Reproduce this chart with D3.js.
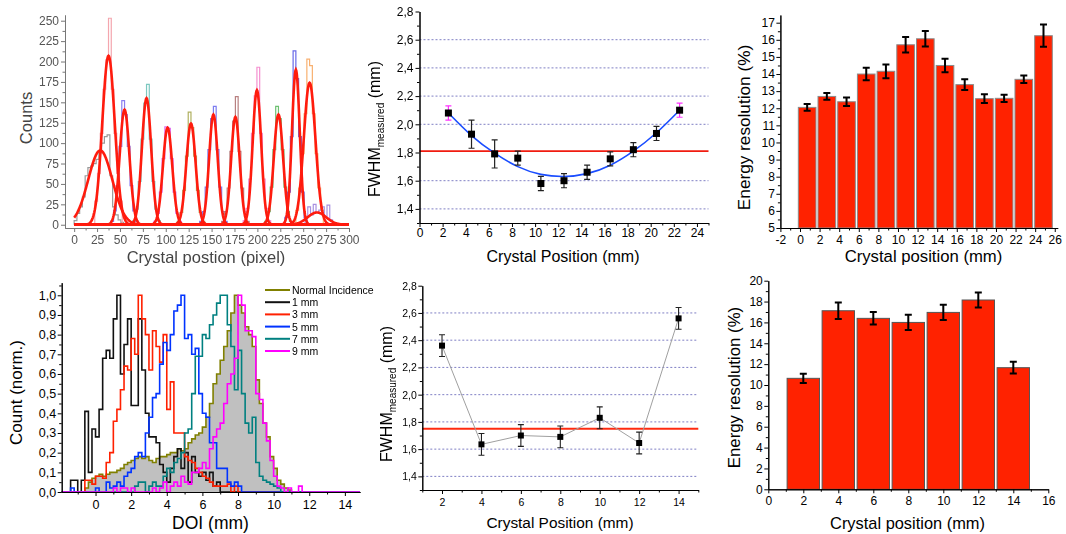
<!DOCTYPE html>
<html>
<head>
<meta charset="utf-8">
<script src="https://cdn.jsdelivr.net/npm/d3@7"></script>
<style>
body { margin: 0; background: #fff; }
svg { display: block; }
</style>
</head>
<body>
<div id="chart"></div>
<script>
var w = 1066;
var h = 534;
var FONT = "Arial, 'Liberation Sans', sans-serif";

// ---------- panel a : crystal profile ----------
var pixTicks = [0, 25, 50, 75, 100, 125, 150, 175, 200, 225, 250, 275, 300];
var countTicks = [0, 25, 50, 75, 100, 125, 150, 175, 200, 225, 250];
// gaussian fits (centre, height, fwhm)
var fitCenter = [28.5, 37.5, 55, 79, 102, 127.5, 152, 176, 199.5, 223, 242, 257, 265];
var fitHeight = [91, 207, 141, 155, 119, 124, 135, 132, 165, 135, 190, 174, 15];
var fitFwhm = [31, 16, 12.5, 12, 12, 12, 11, 11, 11, 12, 10, 15, 24];
// raw histograms under the fits (bin width 3 px)
var histStart = [0, 22.5, 40, 64, 87, 112.5, 137, 161, 184.5, 208, 227, 242, 252];
var histColor = ["#9a9a9a", "#f4a6ae", "#8a7ef0", "#7cc8c0", "#e070f0", "#b0b060", "#7c7cf0",
                 "#b88080", "#f590d0", "#6cc070", "#6a6ae8", "#f8b070", "#a890e0"];
var histCounts = [
  [5, 14, 22, 34, 60, 70, 72, 75, 80, 88, 100, 108, 110, 60, 22, 12, 6, 3],
  [29, 63, 112, 166, 202, 253, 166, 112, 63, 29],
  [4, 17, 48, 96, 152, 135, 96, 48, 17, 4],
  [5, 19, 53, 105, 149, 172, 105, 53, 19, 5],
  [4, 14, 40, 81, 120, 118, 81, 40, 14, 4],
  [4, 15, 42, 84, 138, 119, 84, 42, 15, 4],
  [4, 16, 46, 92, 130, 145, 92, 46, 16, 4],
  [4, 16, 45, 90, 127, 157, 90, 45, 16, 4],
  [5, 20, 56, 112, 158, 193, 112, 56, 20, 5],
  [4, 16, 46, 92, 145, 130, 92, 46, 16, 4],
  [1, 9, 40, 108, 213, 179, 108, 40, 9, 1],
  [18, 45, 87, 136, 203, 195, 136, 87, 45, 18],
  [10, 22, 12, 25, 15, 18, 22, 10, 24, 6]
];

// ---------- panel b : FWHM vs position (25 mm) ----------
var posB = [2.5, 4.5, 6.5, 8.5, 10.5, 12.5, 14.5, 16.5, 18.5, 20.5, 22.5];
var fwhmB = [2.08, 1.93, 1.79, 1.76, 1.58, 1.60, 1.66, 1.755, 1.82, 1.935, 2.10];
var errB = [0.05, 0.10, 0.10, 0.05, 0.05, 0.05, 0.05, 0.05, 0.05, 0.05, 0.05];
var fitB = [2.08, 1.92, 1.795, 1.70, 1.645, 1.63, 1.65, 1.71, 1.81, 1.94, 2.10];
var meanB = 1.81;
var xTicksB = [0, 2, 4, 6, 8, 10, 12, 14, 16, 18, 20, 22, 24];
var yTicksB = [1.4, 1.6, 1.8, 2.0, 2.2, 2.4, 2.6, 2.8];

// ---------- panel c : energy resolution (26 mm) ----------
var posC = [0.73, 2.74, 4.75, 6.76, 8.77, 10.78, 12.79, 14.8, 16.81, 18.82, 20.83, 22.84, 24.85];
var resC = [12.05, 12.69, 12.38, 14.0, 14.16, 15.71, 16.06, 14.5, 13.38, 12.56, 12.58, 13.69, 16.24];
var errC = [0.2, 0.2, 0.25, 0.36, 0.4, 0.45, 0.45, 0.4, 0.32, 0.26, 0.21, 0.22, 0.65];
var xTicksC = [-2, 0, 2, 4, 6, 8, 10, 12, 14, 16, 18, 20, 22, 24, 26];
var yTicksC = [5, 6, 7, 8, 9, 10, 11, 12, 13, 14, 15, 16, 17];

// ---------- panel d : DOI histograms (bins of 0.2 mm from -1.6) ----------
var doiStart = -1.6, doiBin = 0.2;
var doiNames = ["Normal Incidence", "1 mm", "3 mm", "5 mm", "7 mm", "9 mm"];
var doiNormal = [0, 0, 0, 0, 0, 0.02, 0.05, 0.07, 0.08, 0.09,
  0.08, 0.09, 0.10, 0.10, 0.11, 0.12, 0.14, 0.15, 0.16, 0.17,
  0.18, 0.17, 0.18, 0.16, 0.15, 0.17, 0.18, 0.18, 0.19, 0.20,
  0.20, 0.22, 0.21, 0.22, 0.25, 0.27, 0.29, 0.30, 0.33, 0.38,
  0.45, 0.55, 0.60, 0.67, 0.74, 0.82, 0.91, 1.0, 0.95, 0.91,
  0.84, 0.80, 0.74, 0.57, 0.45, 0.35, 0.28, 0.18, 0.12, 0.06,
  0.04, 0.02, 0.01, 0, 0, 0, 0, 0];
var doi1 = [0, 0.06, 0.06, 0, 0.06, 0.41, 0.10, 0.32, 0.28, 0.42,
  0.68, 0.72, 0.68, 0.88, 1.0, 0.60, 0.75, 0.88, 0.44, 0.44,
  0.88, 0.62, 0.40, 0.28, 0.28, 0.25, 0.14, 0.10, 0.05, 0.12,
  0.18, 0.22, 0.12, 0.20, 0.05, 0.18, 0.10, 0.08, 0.10, 0.06,
  0.10, 0.03, 0.05, 0, 0, 0, 0, 0, 0, 0,
  0, 0, 0, 0, 0, 0, 0, 0, 0, 0,
  0, 0, 0, 0, 0, 0, 0, 0];
var doi3 = [0, 0, 0, 0, 0, 0.06, 0.06, 0.04, 0.08, 0.08,
  0.07, 0.15, 0.20, 0.36, 0.42, 0.52, 0.64, 0.62, 0.78, 0.70,
  1.0, 0.88, 0.80, 0.62, 0.82, 0.74, 0.66, 0.80, 0.42, 0.56,
  0.30, 0.30, 0.30, 0.18, 0.16, 0.15, 0.12, 0.10, 0.08, 0.07,
  0.05, 0.03, 0.03, 0.03, 0.03, 0.04, 0, 0.03, 0, 0,
  0, 0, 0, 0, 0, 0, 0, 0, 0, 0,
  0, 0, 0, 0, 0, 0, 0, 0];
var doi5 = [0, 0.02, 0, 0, 0, 0, 0, 0, 0.02, 0,
  0, 0.05, 0.02, 0.03, 0.05, 0.03, 0.08, 0.10, 0.12, 0.18,
  0.20, 0.18, 0.30, 0.38, 0.48, 0.50, 0.65, 0.76, 0.72, 0.80,
  0.92, 0.95, 1.0, 0.78, 0.80, 0.70, 0.73, 0.50, 0.40, 0.38,
  0.25, 0.25, 0.12, 0.12, 0.12, 0.05, 0.03, 0.05, 0.03, 0,
  0, 0, 0, 0, 0, 0, 0, 0, 0, 0,
  0, 0, 0, 0, 0, 0, 0, 0];
var doi7 = [0, 0, 0, 0, 0, 0, 0, 0, 0, 0,
  0, 0, 0, 0, 0, 0, 0, 0, 0, 0.03,
  0.05, 0.05, 0, 0.03, 0.05, 0.03, 0.03, 0.08, 0.12, 0.10,
  0.15, 0.17, 0.20, 0.30, 0.32, 0.50, 0.69, 0.69, 0.80, 0.78,
  0.85, 0.90, 0.96, 1.0, 1.0, 0.85, 0.74, 0.52, 0.72, 0.50,
  0.35, 0.30, 0.38, 0.15, 0.08, 0.06, 0.05, 0.04, 0.03, 0.02,
  0, 0, 0, 0, 0, 0, 0, 0];
var doi9 = [0, 0, 0, 0, 0, 0, 0, 0, 0, 0,
  0, 0, 0, 0.02, 0, 0.02, 0.02, 0, 0.02, 0,
  0, 0, 0, 0, 0.02, 0, 0.02, 0.05, 0, 0.03,
  0.05, 0.03, 0.08, 0.05, 0.04, 0.10, 0.10, 0.12, 0.15, 0.12,
  0.22, 0.28, 0.32, 0.35, 0.45, 0.55, 0.60, 0.68, 1.0, 0.95,
  0.82, 0.82, 0.79, 0.50, 0.47, 0.35, 0.26, 0.16, 0.08, 0.03,
  0.02, 0, 0.02, 0, 0, 0.03, 0, 0];
var doiColor = ["#808000", "#111111", "#ff2000", "#0033ff", "#008080", "#ff00ff"];
var xTicksD = [0, 2, 4, 6, 8, 10, 12, 14];
var yTicksD = [0, 0.1, 0.2, 0.3, 0.4, 0.5, 0.6, 0.7, 0.8, 0.9, 1.0];

// ---------- panel e : FWHM vs position (14 mm) ----------
var posE = [2, 4, 6, 8, 10, 12, 14];
var fwhmE = [2.36, 1.635, 1.70, 1.69, 1.83, 1.645, 2.56];
var errE = [0.08, 0.08, 0.08, 0.08, 0.08, 0.08, 0.08];
var meanE = 1.75;
var xTicksE = [2, 4, 6, 8, 10, 12, 14];

// ---------- panel f : energy resolution (14 mm) ----------
var posF = [2, 4, 6, 8, 10, 12, 14];
var resF = [10.64, 17.12, 16.39, 16.0, 16.96, 18.15, 11.66];
var errF = [0.45, 0.8, 0.6, 0.73, 0.73, 0.73, 0.56];
var xTicksF = [0, 2, 4, 6, 8, 10, 12, 14, 16];
var yTicksF = [0, 2, 4, 6, 8, 10, 12, 14, 16, 18, 20];

var svg = d3.select("#chart").append("svg")
  .attr("width", w).attr("height", h)
  .style("font-family", FONT);

svg.append("defs").append("filter").attr("id", "soft")
  .append("feGaussianBlur").attr("stdDeviation", 0.45);

function comma(d) { return d3.format(".1f")(d).replace(".", ","); }
function plain(d) { return String(d); }

function axes(xs, ys, o) {
  var g = svg.append("g");
  var col = o.col || "#000";
  var bot = g.append("g").attr("transform", "translate(0," + ys.range()[0] + ")");
  bot.append("g").call(d3.axisBottom(xs).tickValues(o.xMinor).tickSize(2.5).tickFormat("").tickSizeOuter(0));
  bot.append("g").call(d3.axisBottom(xs).tickValues(o.xTicks).tickSize(4).tickPadding(o.xPad)
    .tickFormat(o.xFmt).tickSizeOuter(0));
  var left = g.append("g").attr("transform", "translate(" + xs.range()[0] + ",0)");
  left.append("g").call(d3.axisLeft(ys).tickValues(o.yMinor).tickSize(2.5).tickFormat("").tickSizeOuter(0));
  left.append("g").call(d3.axisLeft(ys).tickValues(o.yTicks).tickSize(4).tickPadding(o.yPad)
    .tickFormat(o.yFmt).tickSizeOuter(0));
  g.selectAll("path.domain, line").attr("stroke", col);
  g.selectAll("g").attr("font-family", null).attr("font-size", null);
  g.selectAll("text").attr("font-size", o.fs).attr("fill", o.tcol || "#000").attr("font-family", FONT);
  return g;
}

function xTitle(txt, x, y, fs, col) {
  svg.append("text").attr("x", x).attr("y", y).attr("text-anchor", "middle")
    .attr("font-size", fs).attr("fill", col || "#000").text(txt);
}
function yTitle(txt, x, y, fs, col) {
  svg.append("text").attr("transform", "translate(" + x + "," + y + ") rotate(-90)")
    .attr("text-anchor", "middle").attr("font-size", fs).attr("fill", col || "#000").text(txt);
}
function fwhmTitle(x, y) {
  var t = svg.append("text").attr("transform", "translate(" + x + "," + y + ") rotate(-90)")
    .attr("text-anchor", "middle").attr("font-size", 16).attr("fill", "#000");
  t.append("tspan").text("FWHM");
  t.append("tspan").attr("font-size", 10).attr("dy", 4).text("measured");
  t.append("tspan").attr("dy", -4).text(" (mm)");
}
function errBars(g, xs, ys, px, vals, errs, colFn, cap, sw) {
  g.selectAll(null).data(vals).enter().append("path")
    .attr("d", function(v, i) {
      var cx = xs(px[i]), t = ys(v + errs[i]), b = ys(v - errs[i]);
      return "M" + cx + "," + t + "V" + b + "M" + (cx - cap) + "," + t + "H" + (cx + cap) +
        "M" + (cx - cap) + "," + b + "H" + (cx + cap);
    })
    .attr("fill", "none").attr("stroke", function(v, i) { return colFn(i); }).attr("stroke-width", sw);
}
function grid(g, xs, ys, vals) {
  g.selectAll(null).data(vals).enter().append("line")
    .attr("x1", xs.range()[0]).attr("x2", xs.range()[1])
    .attr("y1", function(d) { return ys(d); }).attr("y2", function(d) { return ys(d); })
    .attr("stroke", "#7f7fc4").attr("stroke-width", 1).attr("stroke-dasharray", "2,2");
}
function odd(a, b) { return d3.range(a, b + 0.01, 2); }

// =============== panel a ===============
var xA = d3.scaleLinear().domain([-10, 300]).range([65, 349]);
var yA = d3.scaleLinear().domain([-4, 257]).range([228, 15]);
var gA = svg.append("g").attr("filter", "url(#soft)");
var stepA = d3.line().curve(d3.curveStepAfter)
  .x(function(d) { return xA(d[0]); }).y(function(d) { return yA(d[1]); });
histCounts.forEach(function(cnt, k) {
  var pts = [[histStart[k], 0]];
  cnt.forEach(function(c, i) { pts.push([histStart[k] + i * 3, c]); });
  pts.push([histStart[k] + cnt.length * 3, 0]);
  gA.append("path").datum(pts).attr("d", stepA)
    .attr("fill", "none").attr("stroke", histColor[k]).attr("stroke-width", 1.2);
});
var lineA = d3.line().x(function(d) { return xA(d[0]); }).y(function(d) { return yA(d[1]); });
var uA = d3.range(0, 300.01, 0.5);
fitCenter.forEach(function(c, k) {
  var pts = uA.map(function(u) {
    var z = (u - c) / fitFwhm[k];
    return [u, fitHeight[k] * Math.exp(-4 * Math.LN2 * z * z)];
  });
  gA.append("path").datum(pts).attr("d", lineA)
    .attr("fill", "none").attr("stroke", "#ff1a10").attr("stroke-width", 2.6);
});
var axA = axes(xA, yA, {
  xTicks: pixTicks, xMinor: d3.range(12.5, 300, 25), xFmt: plain, xPad: 3,
  yTicks: countTicks, yMinor: d3.range(12.5, 250, 25), yFmt: plain, yPad: 2,
  fs: 12, col: "#777", tcol: "#555"
});
axA.attr("filter", "url(#soft)");
xTitle("Crystal postion (pixel)", 206, 263, 16.5, "#444");
yTitle("Counts", 32, 118, 16.5, "#444");

// =============== panel b ===============
var xB = d3.scaleLinear().domain([0, 25]).range([419.5, 708.5]);
var yB = d3.scaleLinear().domain([1.3, 2.8]).range([223, 11.5]);
var gB = svg.append("g");
grid(gB, xB, yB, [1.4, 1.6, 2.0, 2.2, 2.4, 2.6]);
axes(xB, yB, {
  xTicks: xTicksB, xMinor: odd(1, 25), xFmt: plain, xPad: 1.5,
  yTicks: yTicksB, yMinor: odd(13, 27).map(function(d) { return d / 10; }), yFmt: comma, yPad: 2,
  fs: 12
});
gB.append("line").attr("x1", xB.range()[0]).attr("x2", xB.range()[1])
  .attr("y1", yB(meanB)).attr("y2", yB(meanB))
  .attr("stroke", "#f01c10").attr("stroke-width", 1.6);
gB.append("path").datum(fitB)
  .attr("d", d3.line().curve(d3.curveNatural)
    .x(function(d, i) { return xB(posB[i]); }).y(function(d) { return yB(d); }))
  .attr("fill", "none").attr("stroke", "#1a4dff").attr("stroke-width", 1.6);
errBars(gB, xB, yB, posB, fwhmB, errB, function(i) {
  return (i === 0 || i === posB.length - 1) ? "#ff30ff" : "#222";
}, 3, 1.2);
gB.selectAll(null).data(fwhmB).enter().append("rect")
  .attr("x", function(d, i) { return xB(posB[i]) - 3.5; }).attr("y", function(d) { return yB(d) - 3.5; })
  .attr("width", 7).attr("height", 7).attr("fill", "#000");
xTitle("Crystal Position (mm)", 563, 262, 16);
fwhmTitle(380, 129);

// =============== panel c ===============
var xC = d3.scaleLinear().domain([-2, 26.3]).range([780.4, 1057.7]);
var yC = d3.scaleLinear().domain([5, 17.45]).range([228, 15]);
var gC = svg.append("g");
axes(xC, yC, {
  xTicks: xTicksC, xMinor: odd(-1, 25), xFmt: plain, xPad: 3,
  yTicks: yTicksC, yMinor: d3.range(5.5, 17, 1), yFmt: plain, yPad: 1.5,
  fs: 12
});
gC.selectAll(null).data(resC).enter().append("rect")
  .attr("x", function(d, i) { return xC(posC[i] - 0.9); })
  .attr("y", function(d) { return yC(d); })
  .attr("width", xC(1.8) - xC(0))
  .attr("height", function(d) { return yC(5) - yC(d); })
  .attr("fill", "#ff2200").attr("stroke", "#8c8c8c").attr("stroke-width", 1);
errBars(gC, xC, yC, posC, resC, errC, function() { return "#000"; }, 3.5, 2);
xTitle("Crystal position (mm)", 923.5, 262, 16.7);
yTitle("Energy resolution (%)", 750, 127.5, 17.2);

// =============== panel d ===============
var xD = d3.scaleLinear().domain([-1.9, 14.85]).range([61.7, 360]);
var yD = d3.scaleLinear().domain([0, 1.064]).range([492, 282.7]);
var gD = svg.append("g");
axes(xD, yD, {
  xTicks: xTicksD, xMinor: odd(-1, 13), xFmt: plain, xPad: 4,
  yTicks: yTicksD, yMinor: d3.range(0.05, 1.06, 0.1), yFmt: comma, yPad: 1.5,
  fs: 12.5
});
function doiPts(vals) {
  var pts = [[xD.domain()[0], 0], [doiStart, 0]];
  vals.forEach(function(v, i) { pts.push([doiStart + i * doiBin, v]); });
  pts.push([doiStart + vals.length * doiBin, 0]);
  pts.push([xD.domain()[1], 0]);
  return pts;
}
gD.append("path").datum(doiPts(doiNormal))
  .attr("d", d3.area().curve(d3.curveStepAfter)
    .x(function(d) { return xD(d[0]); }).y0(yD(0)).y1(function(d) { return yD(d[1]); }))
  .attr("fill", "#c0c0c0");
var stepD = d3.line().curve(d3.curveStepAfter)
  .x(function(d) { return xD(d[0]); }).y(function(d) { return yD(d[1]); });
[doiNormal, doi1, doi3, doi5, doi7, doi9].forEach(function(s, k) {
  gD.append("path").datum(doiPts(s)).attr("d", stepD)
    .attr("fill", "none").attr("stroke", doiColor[k]).attr("stroke-width", 1.6);
});
var leg = gD.selectAll(".leg").data(doiNames).enter().append("g")
  .attr("transform", function(d, i) { return "translate(265," + (290 + i * 12.2) + ")"; });
leg.append("line").attr("x1", 0).attr("x2", 25).attr("y1", 0).attr("y2", 0)
  .attr("stroke", function(d, i) { return doiColor[i]; }).attr("stroke-width", 2);
leg.append("text").attr("x", 27).attr("y", 4).attr("font-size", 10.5).attr("fill", "#000")
  .text(function(d) { return d; });
xTitle("DOI (mm)", 210.5, 529, 17.5);
yTitle("Count (norm.)", 21.5, 392.5, 17);

// =============== panel e ===============
var xE = d3.scaleLinear().domain([1, 15]).range([422.3, 698.3]);
var yE = d3.scaleLinear().domain([1.3, 2.8]).range([490, 285.7]);
var gE = svg.append("g");
grid(gE, xE, yE, [1.4, 1.6, 1.8, 2.0, 2.2, 2.4, 2.6]);
axes(xE, yE, {
  xTicks: xTicksE, xMinor: odd(1, 15), xFmt: plain, xPad: 4.5,
  yTicks: yTicksB, yMinor: odd(13, 27).map(function(d) { return d / 10; }), yFmt: comma, yPad: 1.5,
  fs: 10.5
});
gE.append("line").attr("x1", xE.range()[0]).attr("x2", xE.range()[1])
  .attr("y1", yE(meanE)).attr("y2", yE(meanE))
  .attr("stroke", "#ff2a10").attr("stroke-width", 2);
gE.append("path").datum(fwhmE)
  .attr("d", d3.line().x(function(d, i) { return xE(posE[i]); }).y(function(d) { return yE(d); }))
  .attr("fill", "none").attr("stroke", "#a0a0a0").attr("stroke-width", 1);
errBars(gE, xE, yE, posE, fwhmE, errE, function() { return "#222"; }, 3, 1.1);
gE.selectAll(null).data(fwhmE).enter().append("rect")
  .attr("x", function(d, i) { return xE(posE[i]) - 3; }).attr("y", function(d) { return yE(d) - 3; })
  .attr("width", 6).attr("height", 6).attr("fill", "#000");
xTitle("Crystal Position (mm)", 560, 527.5, 15.4);
fwhmTitle(392, 394);

// =============== panel f ===============
var xF = d3.scaleLinear().domain([0, 16]).range([768.3, 1048.3]);
var yF = d3.scaleLinear().domain([0, 20]).range([489.3, 280.7]);
var gF = svg.append("g");
axes(xF, yF, {
  xTicks: xTicksF, xMinor: odd(1, 15), xFmt: plain, xPad: 3,
  yTicks: yTicksF, yMinor: odd(1, 19), yFmt: plain, yPad: 1.5,
  fs: 12
});
gF.selectAll(null).data(resF).enter().append("rect")
  .attr("x", function(d, i) { return xF(posF[i] - 0.925); })
  .attr("y", function(d) { return yF(d); })
  .attr("width", xF(1.85) - xF(0))
  .attr("height", function(d) { return yF(0) - yF(d); })
  .attr("fill", "#ff2200").attr("stroke", "#555").attr("stroke-width", 1);
errBars(gF, xF, yF, posF, resF, errF, function() { return "#000"; }, 3.5, 2);
xTitle("Crystal position (mm)", 907.5, 528.5, 16.4);
yTitle("Energy resolution (%)", 740, 387.5, 16.8);
</script>
</body>
</html>
